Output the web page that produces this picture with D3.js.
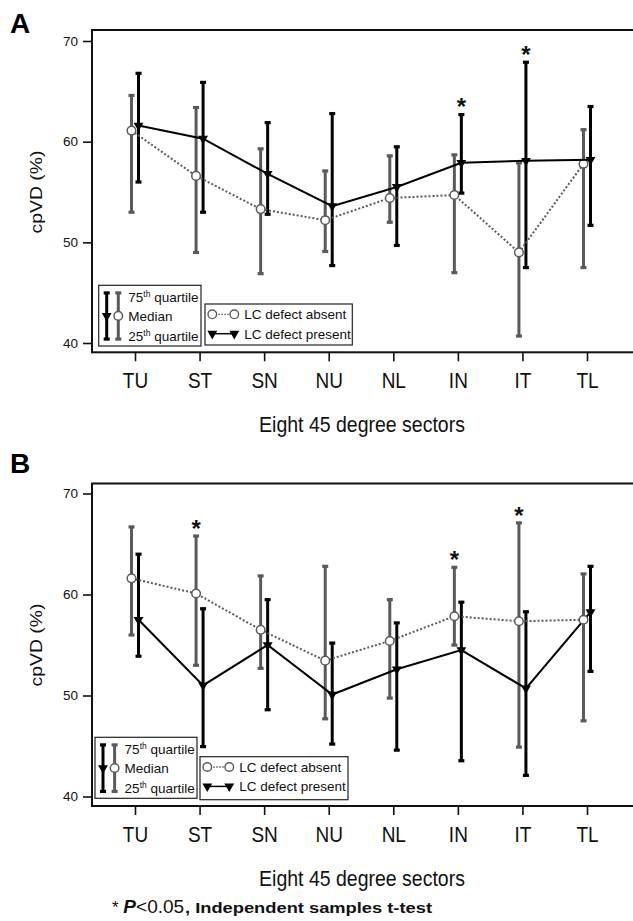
<!DOCTYPE html>
<html><head><meta charset="utf-8">
<script src="https://cdn.jsdelivr.net/npm/d3@7"></script>
<style>
html,body{margin:0;padding:0;background:#fff;}
svg{display:block;font-family:"Liberation Sans",Arial,Helvetica,sans-serif;}
</style></head>
<body>
<svg id="chart" width="633" height="921"></svg>
<script>
// ---------- data ----------
const sectors = ["TU","ST","SN","NU","NL","IN","IT","TL"];
const yTickValues = [40, 50, 60, 70];
const yDomain = [40, 70];

// Panel A
const absentA_median  = [61.1, 56.6, 53.3, 52.2, 54.4, 54.7, 49.0, 57.8];
const absentA_q1      = [53.0, 49.0, 46.9, 49.1, 52.0, 47.0, 40.7, 47.5];
const absentA_q3      = [64.6, 63.4, 59.3, 57.1, 58.6, 58.7, 57.9, 61.2];
const presentA_median = [61.6, 60.3, 56.8, 53.6, 55.5, 57.9, 58.1, 58.2];
const presentA_q1     = [56.0, 53.0, 52.8, 47.7, 49.7, 54.9, 47.5, 51.7];
const presentA_q3     = [66.8, 65.9, 61.9, 62.8, 59.5, 62.7, 67.9, 63.5];
const starsA = ["IN", "IT"];

// Panel B
const absentB_median  = [61.6, 60.1, 56.5, 53.45, 55.4, 57.85, 57.35, 57.5];
const absentB_q1      = [56.0, 53.0, 52.7, 47.7, 49.75, 55.0, 44.9, 47.5];
const absentB_q3      = [66.7, 65.8, 61.85, 62.8, 59.5, 62.7, 67.1, 62.05];
const presentB_median = [57.5, 51.0, 55.0, 50.1, 52.6, 54.5, 50.7, 58.25];
const presentB_q1     = [53.9, 44.95, 48.6, 45.2, 44.6, 43.55, 42.1, 52.4];
const presentB_q3     = [64.0, 58.6, 59.5, 55.2, 57.2, 59.25, 58.3, 62.8];
const starsB = ["ST", "IN", "IT"];

const yLabel = "cpVD (%)";
const xLabel = "Eight 45 degree sectors";
const legendSeries = ["LC defect absent", "LC defect present"];

// ---------- drawing ----------
const svg = d3.select("#chart");
const GREY = "#5a5a5a", BLACK = "#000";
const FONT = '"Liberation Sans",Arial,Helvetica,sans-serif';

function panel(cfg) {
  const g = svg.append("g");
  const x = d3.scalePoint().domain(sectors).range([135, 587]);
  const y = d3.scaleLinear().domain(yDomain).range([cfg.y40, cfg.y70]);
  const off = 3.5;

  // frame (right side runs off the canvas)
  g.append("rect").attr("x", 92).attr("y", cfg.top)
    .attr("width", 700).attr("height", cfg.bottom - cfg.top)
    .attr("fill", "none").attr("stroke", "#111").attr("stroke-width", 2);

  // panel letter
  g.append("text").attr("x", 10).attr("y", cfg.letterY)
    .attr("font-size", 28).attr("font-weight", "bold").text(cfg.letter);

  // y axis
  const ya = g.append("g").attr("transform", "translate(92,0)")
    .call(d3.axisLeft(y).tickValues(yTickValues).tickSize(9).tickPadding(5).tickFormat(d3.format("d")));
  ya.select(".domain").remove();
  ya.selectAll(".tick line").attr("stroke", "#111").attr("stroke-width", 1.6);
  ya.selectAll(".tick text").attr("font-size", 13.5).attr("font-family", FONT).attr("fill", "#111");

  // x axis
  const xa = g.append("g").attr("transform", `translate(0,${cfg.bottom})`)
    .call(d3.axisBottom(x).tickSize(9));
  xa.select(".domain").remove();
  xa.selectAll(".tick line").attr("stroke", "#111").attr("stroke-width", 1.6);
  xa.selectAll(".tick text").attr("y", 0).attr("dy", null)
    .attr("transform", "translate(0,36) scale(1,1.16)")
    .attr("font-size", 19).attr("font-family", FONT).attr("fill", "#111");

  // axis titles
  g.append("text").attr("transform", `translate(362,${cfg.bottom + 80}) scale(1,1.16)`)
    .attr("text-anchor", "middle").attr("font-size", 19.5).attr("fill", "#111").text(xLabel);
  g.append("text").attr("transform", `translate(41.5,${(cfg.y40 + cfg.y70) / 2}) rotate(-90) scale(1.16,1)`)
    .attr("text-anchor", "middle").attr("font-size", 16.7).attr("fill", "#111").text(yLabel);

  const absent = sectors.map((s, i) => ({s, m: cfg.aMed[i], lo: cfg.aQ1[i], hi: cfg.aQ3[i]}));
  const present = sectors.map((s, i) => ({s, m: cfg.pMed[i], lo: cfg.pQ1[i], hi: cfg.pQ3[i]}));

  function bars(data, dx, color) {
    const b = g.append("g");
    b.selectAll("line").data(data).join("line")
      .attr("x1", d => x(d.s) + dx).attr("x2", d => x(d.s) + dx)
      .attr("y1", d => y(d.hi)).attr("y2", d => y(d.lo))
      .attr("stroke", color).attr("stroke-width", 3);
    b.selectAll("rect.top").data(data).join("rect").attr("class", "top")
      .attr("x", d => x(d.s) + dx - 3).attr("y", d => y(d.hi) - 1.5)
      .attr("width", 6).attr("height", 3.2).attr("fill", color);
    b.selectAll("rect.bot").data(data).join("rect").attr("class", "bot")
      .attr("x", d => x(d.s) + dx - 3).attr("y", d => y(d.lo) - 1.5)
      .attr("width", 6).attr("height", 3.2).attr("fill", color);
  }
  bars(absent, -off, GREY);
  bars(present, off, BLACK);

  const line = (dx) => d3.line().x(d => x(d.s) + dx).y(d => y(d.m));
  const tri = d3.symbol().type(d3.symbolTriangle).size(42);

  if (cfg.absentOnTop) {
    drawPresent(); drawAbsent();
  } else {
    drawAbsent(); drawPresent();
  }
  function drawAbsent() {
    g.append("path").datum(absent).attr("d", line(-off)).attr("fill", "none")
      .attr("stroke", GREY).attr("stroke-width", 2).attr("stroke-dasharray", "2,2");
    g.selectAll(null).data(absent).join("circle")
      .attr("cx", d => x(d.s) - off).attr("cy", d => y(d.m)).attr("r", 4.3)
      .attr("fill", "#fff").attr("stroke", GREY).attr("stroke-width", 1.5);
  }
  function drawPresent() {
    g.append("path").datum(present).attr("d", line(off)).attr("fill", "none")
      .attr("stroke", BLACK).attr("stroke-width", 2);
    g.selectAll(null).data(present).join("path")
      .attr("d", tri)
      .attr("transform", d => `translate(${x(d.s) + off},${y(d.m)}) rotate(180)`)
      .attr("fill", BLACK);
  }

  // significance stars
  const starData = cfg.stars.map(s => {
    const i = sectors.indexOf(s);
    const aHi = cfg.aQ3[i], pHi = cfg.pQ3[i];
    return {s, hi: Math.max(aHi, pHi), dx: aHi > pHi ? -off : off};
  });
  g.selectAll(null).data(starData).join("text")
    .attr("x", d => x(d.s) + d.dx).attr("y", d => y(d.hi) + 1)
    .attr("text-anchor", "middle").attr("font-size", 24).attr("font-weight", "bold")
    .attr("fill", "#111").text("*");

  // legend 1 (quartiles)
  const L1 = cfg.leg1;
  const l1 = g.append("g").attr("transform", `translate(${L1.x},${L1.y})`);
  l1.append("rect").attr("width", L1.w).attr("height", L1.h)
    .attr("fill", "#fff").attr("stroke", "#222").attr("stroke-width", 1.2);
  const ly1 = 7.5, ly2 = L1.h - 7, lym = (ly1 + ly2) / 2;
  [[8, BLACK], [19.6, GREY]].forEach(([bx, c]) => {
    l1.append("line").attr("x1", bx).attr("x2", bx).attr("y1", ly1).attr("y2", ly2)
      .attr("stroke", c).attr("stroke-width", 3);
    l1.append("rect").attr("x", bx - 3).attr("y", ly1 - 1.5).attr("width", 6).attr("height", 3.2).attr("fill", c);
    l1.append("rect").attr("x", bx - 3).attr("y", ly2 - 1.5).attr("width", 6).attr("height", 3.2).attr("fill", c);
  });
  l1.append("path").attr("d", tri).attr("transform", `translate(8,${lym}) rotate(180)`).attr("fill", BLACK);
  l1.append("circle").attr("cx", 19.6).attr("cy", lym).attr("r", 4.3)
    .attr("fill", "#fff").attr("stroke", GREY).attr("stroke-width", 1.5);
  const t75 = l1.append("text").attr("x", 29.6).attr("y", 16.7).attr("font-size", 13.5).attr("fill", "#111");
  t75.append("tspan").text("75");
  t75.append("tspan").attr("font-size", 8.5).attr("dy", -5).text("th");
  t75.append("tspan").attr("dy", 5).text(" quartile");
  l1.append("text").attr("x", 29.6).attr("y", 35.8).attr("font-size", 13.5).attr("fill", "#111").text("Median");
  const t25 = l1.append("text").attr("x", 29.6).attr("y", 56).attr("font-size", 13.5).attr("fill", "#111");
  t25.append("tspan").text("25");
  t25.append("tspan").attr("font-size", 8.5).attr("dy", -5).text("th");
  t25.append("tspan").attr("dy", 5).text(" quartile");

  // legend 2 (series)
  const L2 = cfg.leg2;
  const l2 = g.append("g").attr("transform", `translate(${L2.x},${L2.y})`);
  l2.append("rect").attr("width", L2.w).attr("height", L2.h)
    .attr("fill", "#fff").attr("stroke", "#222").attr("stroke-width", 1.2);
  const r1 = 10.3, r2 = 29.7;
  l2.append("line").attr("x1", 7.3).attr("x2", 29.3).attr("y1", r1).attr("y2", r1)
    .attr("stroke", GREY).attr("stroke-width", 1.3).attr("stroke-dasharray", "1.5,1.5");
  [7.3, 29.3].forEach(cx => l2.append("circle").attr("cx", cx).attr("cy", r1).attr("r", 4.3)
    .attr("fill", "#fff").attr("stroke", GREY).attr("stroke-width", 1.4));
  l2.append("line").attr("x1", 7.3).attr("x2", 29.3).attr("y1", r2).attr("y2", r2)
    .attr("stroke", BLACK).attr("stroke-width", 1.5);
  [7.3, 29.3].forEach(cx => l2.append("path").attr("d", tri)
    .attr("transform", `translate(${cx},${r2}) rotate(180)`).attr("fill", BLACK));
  l2.append("text").attr("x", 39.3).attr("y", r1 + 4.8).attr("font-size", 13.5).attr("fill", "#111").text(legendSeries[0]);
  l2.append("text").attr("x", 39.3).attr("y", r2 + 4.8).attr("font-size", 13.5).attr("fill", "#111").text(legendSeries[1]);
}

panel({
  letter: "A", letterY: 33, top: 30, bottom: 352.3, y70: 41, y40: 343,
  aMed: absentA_median, aQ1: absentA_q1, aQ3: absentA_q3,
  pMed: presentA_median, pQ1: presentA_q1, pQ3: presentA_q3,
  stars: starsA, absentOnTop: false,
  leg1: {x: 98.7, y: 285.3, w: 102.3, h: 60.7},
  leg2: {x: 205, y: 304, w: 147.3, h: 41}
});
panel({
  letter: "B", letterY: 473, top: 483.5, bottom: 806, y70: 493.5, y40: 796.5,
  aMed: absentB_median, aQ1: absentB_q1, aQ3: absentB_q3,
  pMed: presentB_median, pQ1: presentB_q1, pQ3: presentB_q3,
  stars: starsB, absentOnTop: true,
  leg1: {x: 95, y: 737.3, w: 102, h: 61},
  leg2: {x: 200, y: 756.7, w: 148, h: 43}
});

// footnote
const fn = svg.append("text").attr("x", 112).attr("y", 913).attr("fill", "#111").attr("font-size", 19);
fn.append("tspan").attr("font-size", 17).text("* ");
fn.append("tspan").attr("font-weight", "bold").attr("font-style", "italic").text("P");
fn.append("tspan").text("<0.05");
svg.append("text").attr("x", 185).attr("y", 913).attr("fill", "#111")
  .attr("font-size", 15).attr("font-weight", "bold")
  .attr("textLength", 247).attr("lengthAdjust", "spacingAndGlyphs")
  .text(", Independent samples t-test");
</script>
</body></html>
